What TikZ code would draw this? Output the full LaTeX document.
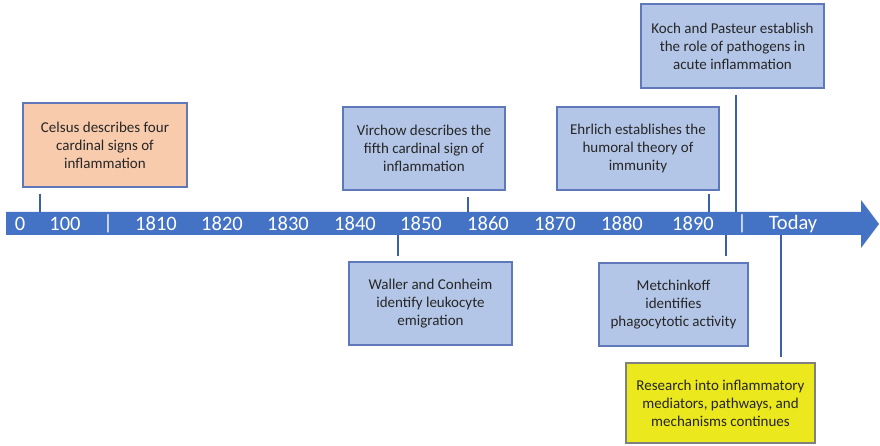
\documentclass[tikz,border=0pt]{standalone}
\usepackage{fontspec}
\setmainfont{Carlito}
\usepackage{xcolor}
\usepackage{tikz}
\usetikzlibrary{positioning, calc}
\definecolor{lineblue}{RGB}{68, 114, 196}
\definecolor{boxblue}{RGB}{180, 198, 231}
\definecolor{boxedge}{RGB}{95, 120, 185}
\definecolor{peach}{RGB}{248, 203, 173}
\definecolor{lemon}{RGB}{236, 232, 30}

\begin{document}
\begin{tikzpicture}[
    x=1pt, y=-1pt,
    event/.style={rectangle, draw=boxedge, line width=1.2pt, fill=boxblue,
                  minimum height=83pt, align=center, inner sep=2pt,
                  font=\fontsize{15}{18}\selectfont, text=black!85},
    year/.style={text=white, font=\fontsize{20.5}{22}\selectfont, anchor=center},
    link/.style={draw=lineblue!85!black, line width=1.8pt}
]
\useasboundingbox (0,0) rectangle (880,446);

% timeline
\fill[lineblue] (6,212) -- (861,212) -- (861,200) -- (879,224) -- (861,248)
    -- (861,235) -- (6,235) -- cycle;
\foreach \xpos/\lbl in {20/0, 65/100, 108/|, 156/1810, 222/1820, 288/1830,
    355/1840, 421/1850, 488/1860, 555/1870, 622/1880, 693/1890, 742/|, 793/Today}
    \node[year] (y\xpos) at (\xpos,224) {\lbl};

\coordinate (tcelsus) at (40,212);
\coordinate (tvirchow) at (468,212);
\coordinate (tehrlich) at (709,212);
\coordinate (tkoch) at (736,212);
\coordinate (twaller) at (398,235);
\coordinate (tmetch) at (726,235);
\coordinate (tresearch) at (781,235);

% events above the line
\node[event, fill=peach, minimum width=164pt, minimum height=84pt] (celsus) at (105,145)
    {Celsus describes four\\cardinal signs of\\inflammation};
\node[event, minimum width=162pt] (virchow) at (424,148.5)
    {Virchow describes the\\fifth cardinal sign of\\inflammation};
\node[event, minimum width=162pt] (ehrlich) at (638,148.5)
    {Ehrlich establishes the\\humoral theory of\\immunity};
\node[event, minimum width=183pt, minimum height=84pt] (koch) at (732.5,46)
    {Koch and Pasteur establish\\the role of pathogens in\\acute inflammation};

% events below the line
\node[event, minimum width=163pt] (waller) at (430.5,303.5)
    {Waller and Conheim\\identify leukocyte\\emigration};
\node[event, minimum width=149pt] (metch) at (673.5,304.5)
    {Metchinkoff\\identifies\\phagocytotic activity};
\node[event, draw=black!50, fill=lemon, minimum width=189pt, minimum height=80pt] (research) at (720.5,403)
    {Research into inflammatory\\mediators, pathways, and\\mechanisms continues};

\draw[link, shorten <=6pt] (celsus.south -| tcelsus) -- (tcelsus);
\draw[link, shorten <=6pt] (virchow.south -| tvirchow) -- (tvirchow);
\draw[link, shorten <=3pt] (ehrlich.south -| tehrlich) -- (tehrlich);
\draw[link, shorten <=6pt] (koch.south -| tkoch) -- (tkoch);
\draw[link, shorten >=5pt] (twaller) -- (waller.north -| twaller);
\draw[link, shorten >=6pt] (tmetch) -- (metch.north -| tmetch);
\draw[link, shorten >=5pt] (tresearch) -- (research.north -| tresearch);
\end{tikzpicture}
\end{document}
